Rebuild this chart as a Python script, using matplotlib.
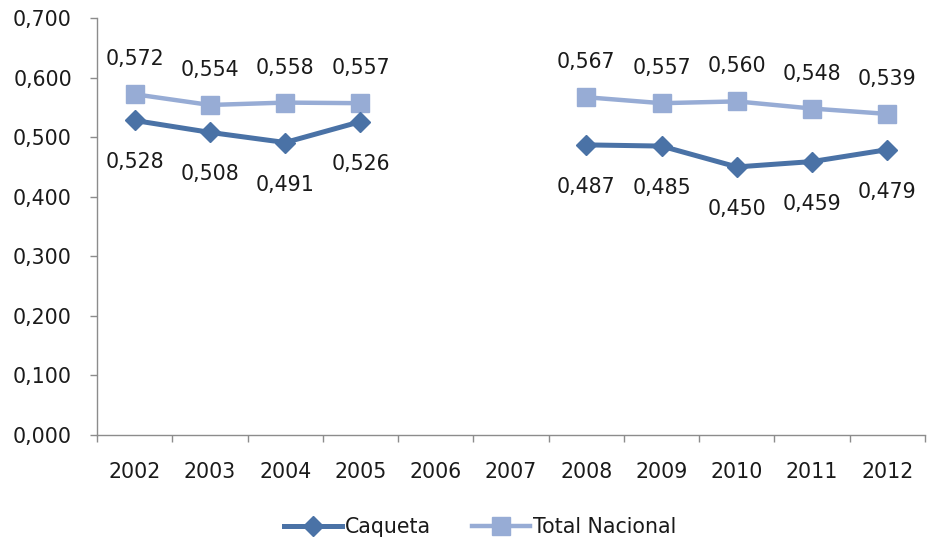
import matplotlib
matplotlib.use("Agg")
import matplotlib.pyplot as plt
import numpy as np

years = ["2002", "2003", "2004", "2005", "2006", "2007", "2008", "2009", "2010", "2011", "2012"]
caqueta = [0.528, 0.508, 0.491, 0.526, None, None, 0.487, 0.485, 0.450, 0.459, 0.479]
total_nacional = [0.572, 0.554, 0.558, 0.557, None, None, 0.567, 0.557, 0.560, 0.548, 0.539]
y_ticks = [0.0, 0.1, 0.2, 0.3, 0.4, 0.5, 0.6, 0.7]

dark = "#4A72A6"
light = "#97ACD5"
axis_col = "#8C8C8C"
txt_col = "#1a1a1a"

def fmt(v):
    return f"{v:.3f}".replace(".", ",")

fig = plt.figure(figsize=(9.28, 5.45), dpi=100)
ax = fig.add_axes([97/928, 110/545, (925-97)/928, (435-18)/545])

x = np.arange(len(years))
cq = np.array([np.nan if v is None else v for v in caqueta])
tn = np.array([np.nan if v is None else v for v in total_nacional])

ax.plot(x, cq, color=dark, lw=3.6, marker="D", ms=10, mec=dark, mfc=dark, label="Caqueta", zorder=3)
ax.plot(x, tn, color=light, lw=3.2, marker="s", ms=13.5, mec=light, mfc=light, label="Total Nacional", zorder=2)

lab_font = dict(family=["DejaVu Sans"], fontsize=14.8, color=txt_col)
for xi, v in zip(x, tn):
    if not np.isnan(v):
        ax.annotate(fmt(v), (xi, v), xytext=(0, 35), textcoords="offset pixels",
                    ha="center", va="center", **lab_font)
for xi, v in zip(x, cq):
    if not np.isnan(v):
        ax.annotate(fmt(v), (xi, v), xytext=(0, -42), textcoords="offset pixels",
                    ha="center", va="center", **lab_font)

ax.set_xlim(-0.5, len(years) - 0.5)
ax.set_ylim(0, 0.7)
ax.set_yticks(y_ticks)
ax.set_yticklabels([fmt(v) for v in y_ticks], family=["DejaVu Sans"], fontsize=14.8, color=txt_col)
ax.set_xticks(x)
ax.set_xticklabels(years, family=["DejaVu Sans"], fontsize=14.8, color=txt_col)
ax.set_xticks(np.arange(-0.5, len(years)), minor=True)
ax.tick_params(axis="x", which="major", length=0, pad=19.5)
ax.tick_params(axis="x", which="minor", length=5, width=1, color=axis_col, direction="out")
ax.tick_params(axis="y", length=5, width=1, color=axis_col, direction="out", pad=13)

for s in ["top", "right"]:
    ax.spines[s].set_visible(False)
for s in ["left", "bottom"]:
    ax.spines[s].set_color(axis_col)
    ax.spines[s].set_linewidth(1)

leg = fig.legend(loc="center", bbox_to_anchor=(480/928, 1 - 527/545), ncol=2, frameon=False,
                 handlelength=2.8, columnspacing=2.0, handletextpad=0.15,
                 prop=dict(family="DejaVu Sans", size=14.8))
for t in leg.get_texts():
    t.set_color(txt_col)

fig.savefig("out.png", dpi=100)
